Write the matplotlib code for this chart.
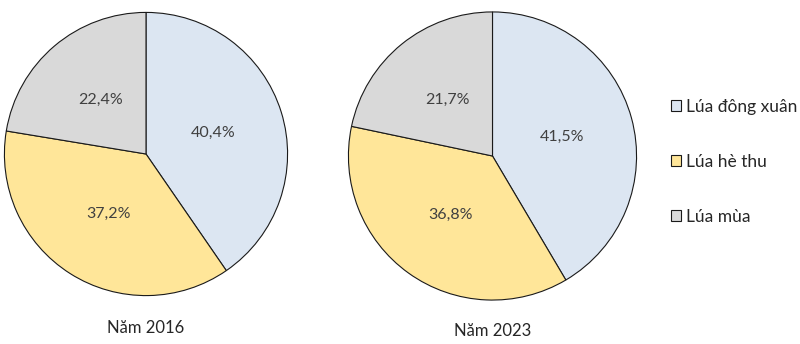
import matplotlib
matplotlib.use("Agg")
import matplotlib.pyplot as plt

plt.rcParams['font.family'] = ['Lato', 'DejaVu Sans']

# rice crop share by season
seasons = ['Lúa đông xuân', 'Lúa hè thu', 'Lúa mùa']
share_2016 = [40.4, 37.2, 22.4]
share_2023 = [41.5, 36.8, 21.7]
years = ['Năm 2016', 'Năm 2023']
colors = ['#DCE6F2', '#FFE699', '#D9D9D9']

W, H = 800, 344
fig = plt.figure(figsize=(W / 100, H / 100), dpi=100)

def fmt(v):
    return f"{v:.1f}".replace('.', ',') + '%'

def draw_pie(cx, cy, r, values, title, ty):
    ax = fig.add_axes([(cx - r) / W, 1 - (cy + r) / H, 2 * r / W, 2 * r / H])
    wedges, texts = ax.pie(values, colors=colors, startangle=90, counterclock=False,
                           labels=[fmt(v) for v in values], labeldistance=0.5,
                           wedgeprops=dict(edgecolor='#1a1a1a', linewidth=0.8),
                           textprops=dict(fontsize=11.5, color='#404040',
                                          ha='center', va='center'))
    ax.set_xlim(-1.01, 1.01)
    ax.set_ylim(-1.01, 1.01)
    ax.set_aspect('equal')
    fig.text(cx / W, 1 - ty / H, title, ha='center', va='center',
             fontsize=12, color='#262626')
    return wedges

wedges = draw_pie(146, 154, 143, share_2016, years[0], 328)
draw_pie(492.5, 156, 145.5, share_2023, years[1], 331)

fig.legend(wedges, seasons, loc='center left', bbox_to_anchor=(655 / W, 1 - 162 / H),
           frameon=False, fontsize=12.5, labelspacing=2.25,
           handlelength=0.6, handleheight=0.6, handletextpad=0.3,
           labelcolor='#262626')

fig.savefig('out.png', dpi=100, facecolor='white')
